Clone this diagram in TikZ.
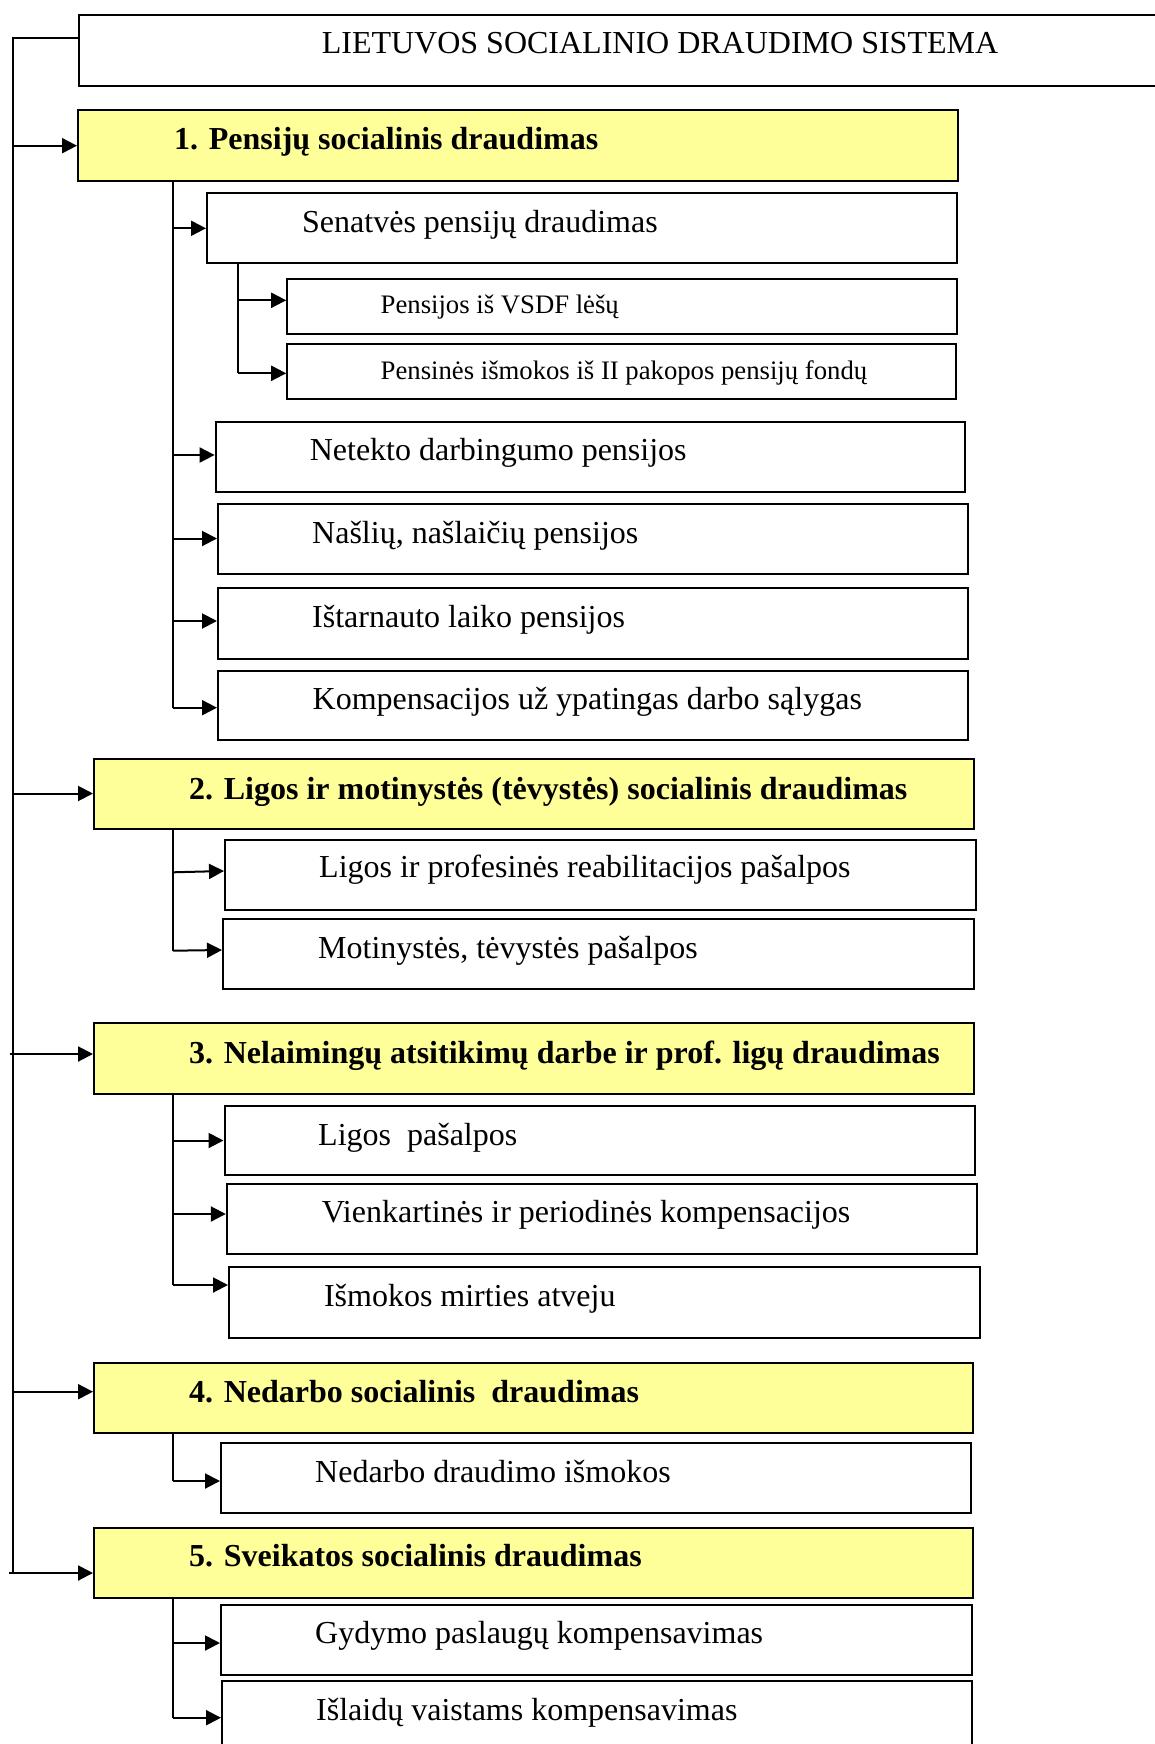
\documentclass[tikz,border=0pt]{standalone}
\usepackage{fontspec}
\setmainfont{Liberation Serif}
\usetikzlibrary{arrows.meta}
\definecolor{yfill}{HTML}{FFFF99}
\begin{document}
\begin{tikzpicture}[x=1pt,y=-1pt,
  box/.style={draw=black, line width=2pt, rectangle, inner sep=0pt, anchor=north west},
  ybox/.style={box, fill=yfill},
  lbl/.style={anchor=base west, inner sep=0pt, font=\fontsize{32}{38}\selectfont},
  slbl/.style={anchor=base west, inner sep=0pt, font=\fontsize{26.7}{32}\selectfont},
  blbl/.style={anchor=base west, inner sep=0pt, font=\fontsize{32}{38}\selectfont\bfseries},
  conn/.style={line width=2pt},
  arr/.style={line width=2pt, -{Triangle[length=15pt,width=15pt]}}]
\useasboundingbox (0,0) rectangle (1155,1744);

% boxes
\node[box, minimum width=1100pt, minimum height=71pt] (title) at (78,14) {};
\node[lbl] (titlet) at (321.6,53.3) {LIETUVOS SOCIALINIO DRAUDIMO SISTEMA};

\node[ybox, minimum width=879.5pt, minimum height=71pt] (y1) at (77,109.5) {};
\node[blbl] (y1t) at (174,150) {1. Pensijų socialinis draudimas};

\node[box, minimum width=750pt, minimum height=69pt] (b1) at (206,192.5) {};
\node[lbl] (b1t) at (302,232.7) {Senatvės pensijų draudimas};
\node[box, minimum width=669.8pt, minimum height=55.3pt] (b11) at (286.2,277.7) {};
\node[slbl] (b11t) at (380.5,313.3) {Pensijos iš VSDF lėšų};
\node[box, minimum width=668.8pt, minimum height=55.6pt] (b12) at (286.2,342.7) {};
\node[slbl] (b12t) at (380.5,379) {Pensinės išmokos iš II pakopos pensijų fondų};

\node[box, minimum width=749pt, minimum height=70.3pt] (b2) at (214.6,420.5) {};
\node[lbl] (b2t) at (309.6,460.5) {Netekto darbingumo pensijos};
\node[box, minimum width=750pt, minimum height=70pt] (b3) at (217,503) {};
\node[lbl] (b3t) at (312,543) {Našlių, našlaičių pensijos};
\node[box, minimum width=750pt, minimum height=70.3pt] (b4) at (217,587.4) {};
\node[lbl] (b4t) at (312,627.4) {Ištarnauto laiko pensijos};
\node[box, minimum width=750pt, minimum height=69.3pt] (b5) at (217,669.7) {};
\node[lbl] (b5t) at (312.5,709.7) {Kompensacijos už ypatingas darbo sąlygas};

\node[ybox, minimum width=879.5pt, minimum height=70.3pt] (y2) at (93,758) {};
\node[blbl] (y2t) at (189,799.3) {2. Ligos ir motinystės (tėvystės) socialinis draudimas};
\node[box, minimum width=750.8pt, minimum height=70.3pt] (c1) at (224,838.7) {};
\node[lbl] (c1t) at (319,877.7) {Ligos ir profesinės reabilitacijos pašalpos};
\node[box, minimum width=750.6pt, minimum height=70pt] (c2) at (222,918) {};
\node[lbl] (c2t) at (318,958.3) {Motinystės, tėvystės pašalpos};

\node[ybox, minimum width=879.5pt, minimum height=71pt] (y3) at (93,1022) {};
\node[blbl] (y3t) at (189,1063) {3. Nelaimingų atsitikimų darbe ir prof. ligų draudimas};
\node[box, minimum width=750.2pt, minimum height=69pt] (d1) at (223.5,1105) {};
\node[lbl] (d1t) at (318,1145) {Ligos\ \ pašalpos};
\node[box, minimum width=750.2pt, minimum height=70.3pt] (d2) at (225.8,1182.7) {};
\node[lbl] (d2t) at (321.6,1222.7) {Vienkartinės ir periodinės kompensacijos};
\node[box, minimum width=751pt, minimum height=70.5pt] (d3) at (228,1266) {};
\node[lbl] (d3t) at (323.8,1306) {Išmokos mirties atveju};

\node[ybox, minimum width=879pt, minimum height=69.7pt] (y4) at (93,1362) {};
\node[blbl] (y4t) at (189,1402) {4. Nedarbo socialinis\ \ draudimas};
\node[box, minimum width=750pt, minimum height=70pt] (e1) at (220,1442) {};
\node[lbl] (e1t) at (315,1482) {Nedarbo draudimo išmokos};

\node[ybox, minimum width=879pt, minimum height=70pt] (y5) at (93,1526.7) {};
\node[blbl] (y5t) at (189,1566.7) {5. Sveikatos socialinis draudimas};
\node[box, minimum width=750.6pt, minimum height=70.3pt] (f1) at (220,1603.7) {};
\node[lbl] (f1t) at (315,1643.7) {Gydymo paslaugų kompensavimas};
\node[box, minimum width=750pt, minimum height=100pt] (f2) at (221,1680) {};
\node[lbl] (f2t) at (316,1720) {Išlaidų vaistams kompensavimas};

% main trunk
\coordinate (T0) at (13,37.7);
\coordinate (T1) at (13,1573);
\draw[conn] (title.west |- T0) -- (T0) -- (T1);
\draw[arr] (13,145.7) -- (y1.west |- 0,145.7);
\draw[arr] (13,793.5) -- (y2.west |- 0,793.5);
\draw[arr] (9.6,1054) -- (y3.west |- 0,1054);
\draw[arr] (13,1391.7) -- (y4.west |- 0,1391.7);
\draw[arr] (9,1573) -- (y5.west |- 0,1573);

% group 1
\coordinate (g1) at (173,0);
\draw[conn] (y1.south -| g1) -- (g1 |- 0,707.7);
\draw[arr] (g1 |- 0,228.3) -- (b1.west |- 0,228.3);
\coordinate (g11) at (237.8,0);
\draw[conn] (b1.south -| g11) -- (g11 |- 0,373.3);
\draw[arr] (g11 |- 0,300.3) -- (b11.west |- 0,300.3);
\draw[arr] (g11 |- 0,373.3) -- (b12.west |- 0,373.3);
\draw[arr] (g1 |- 0,455) -- (b2.west |- 0,455);
\draw[arr] (g1 |- 0,538.5) -- (b3.west |- 0,538.5);
\draw[arr] (g1 |- 0,621) -- (b4.west |- 0,621);
\draw[arr] (g1 |- 0,707.7) -- (b5.west |- 0,707.7);

% group 2
\draw[conn] (y2.south -| g1) -- (g1 |- 0,950.7);
\draw[arr] (g1 |- 0,872.3) -- (c1.west |- 0,871);
\draw[arr] (g1 |- 0,950.7) -- (c2.west |- 0,950);

% group 3
\draw[conn] (y3.south -| g1) -- (g1 |- 0,1285);
\draw[arr] (g1 |- 0,1140.5) -- (d1.west |- 0,1140.5);
\draw[arr] (g1 |- 0,1214) -- (d2.west |- 0,1214);
\draw[arr] (g1 |- 0,1285) -- (d3.west |- 0,1285);

% group 4
\draw[conn] (y4.south -| g1) -- (g1 |- 0,1481);
\draw[arr] (g1 |- 0,1481) -- (e1.west |- 0,1481);

% group 5
\draw[conn] (y5.south -| g1) -- (g1 |- 0,1717.7);
\draw[arr] (g1 |- 0,1643) -- (f1.west |- 0,1643);
\draw[arr] (g1 |- 0,1717.7) -- (f2.west |- 0,1717.7);
\end{tikzpicture}
\end{document}
